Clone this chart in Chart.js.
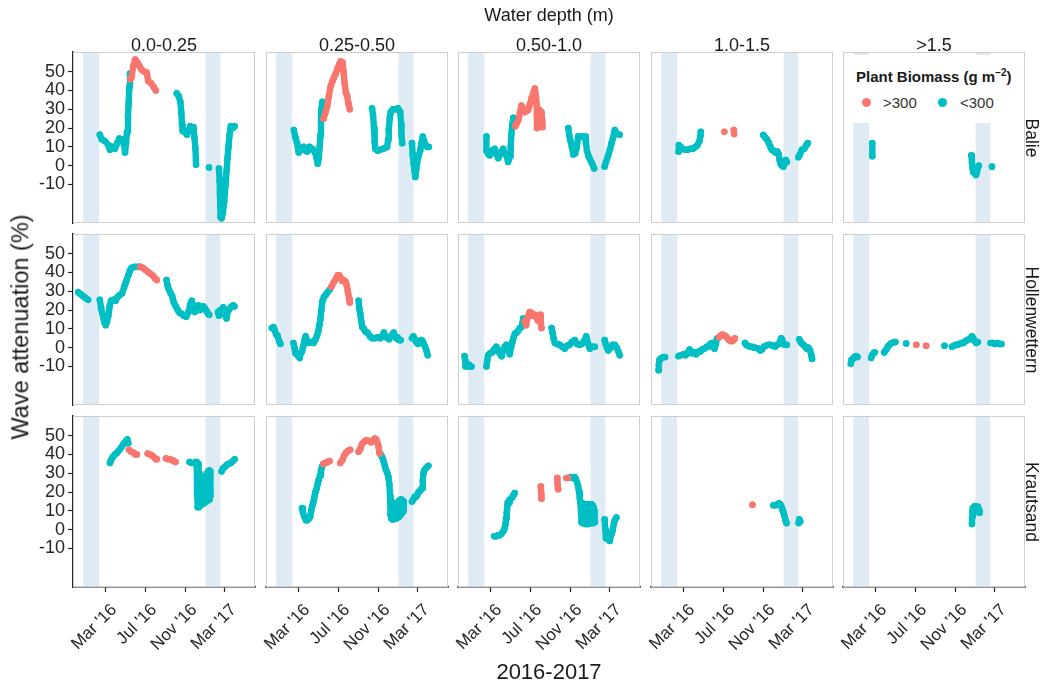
<!DOCTYPE html>
<html>
<head>
<meta charset="utf-8">
<script src="https://cdn.jsdelivr.net/npm/chart.js@4.4.1/dist/chart.umd.min.js"></script>
<style>
  body { margin: 0; background: #fff; width: 1044px; height: 687px; position: relative; overflow: hidden;
         font-family: 'Liberation Sans', Arial, sans-serif; color: #1a1a1a; }
  canvas { position: absolute; }
  .lbl { position: absolute; white-space: nowrap; line-height: 1; transform: translate(-50%, -50%); }
  .legend { position: absolute; left: 849px; top: 55px; width: 171px; height: 68px; background: #fff; }
  .legend .title { position: absolute; left: 7px; top: 14px; font-size: 15px; font-weight: bold; white-space: nowrap; line-height: 1; }
  .legend sup { font-size: 10px; line-height: 0; }
  .legend .dot { position: absolute; width: 9px; height: 9px; border-radius: 50%; }
  .legend .item { position: absolute; font-size: 15px; color: #333; white-space: nowrap; line-height: 1; }
</style>
</head>
<body>
<div id="root"></div>
<script>
// ---- biomass classes ----
const HI = '>300';
const LO = '<300';
const classColors = { '>300': '#F8766D', '<300': '#00BFC4' };

// ---- facet labels ----
const depthClasses = ['0.0-0.25', '0.25-0.50', '0.50-1.0', '1.0-1.5', '>1.5'];
const sites = ['Balie', 'Hollenwettern', 'Krautsand'];

// ---- time axis (days counted from 1 Jan 2016) ----
const tickDays = [60, 182, 305, 425];
const tickLabels = ["Mar '16", "Jul '16", "Nov '16", "Mar '17"];
const dayMin = -38;
const dayMax = 518;

// ---- value axis ----
const yTicks = [-10, 0, 10, 20, 30, 40, 50];
const yMin = -30.5;
const yMax = 60.5;

// ---- winter periods (shaded) ----
const winterStart = [-7, 367];
const winterEnd = [42, 412];

// ---- wave attenuation series: [class, [[day, %], ...]] per continuous run ----
const balie_d1 = [
  [LO, [[44,16.5],[50,14],[60,13],[70,11],[75,8.5],[82,10],[90,9],[97,12],[104,14.5],[110,13],[116,14],[121,7],[124,12],[127,18],[130,26],[132,33],[134,42],[136,49]]],
  [HI, [[137,46],[141,47],[146,53],[152,56.5],[158,55],[165,53],[172,51],[180,50],[187,49.5],[192,45],[200,44],[208,42],[215,40]]],
  [LO, [[279,38.5],[285,37],[290,34],[293,28],[295,22],[297,18.5],[304,18],[310,16.5],[316,19],[320,21],[326,18.5],[330,20.5],[333,15],[336,9],[338,0.5]]],
  [LO, [[377.5,-1]]],
  [LO, [[408,-1.5],[410,-8],[411,-15],[412,-22],[413,-27.5],[416,-28],[420,-25],[424,-19],[428,-10],[431,-3],[434,4],[437,10],[440,16],[444,21],[450,20],[456,21]]]
];
const balie_d2 = [
  [LO, [[47,19],[52,15],[57,12],[62,7],[70,9],[77,10],[83,8],[88,7.5],[95,10],[103,9],[108,8],[113,6.5],[117,4],[120,1],[123,4],[126,10],[128,16],[130,24],[131,30],[134,34]]],
  [HI, [[138,25],[143,28],[149,31.5],[154,37],[159,42],[165,45],[170,47],[175,49],[181,52],[186,54],[190,55.5],[196,55],[199,50],[202,44],[206,39],[210,37],[214,33],[218,30]]],
  [LO, [[286,30.5],[289,27],[292,20],[294,13],[296,9],[303,8],[311,8.5],[320,9],[327,9.5],[332,10],[335,14],[337,19],[340,25],[343,28.5],[350,30],[358,30],[365,30.5],[372,28.5],[375,22],[376,16],[378,12]]],
  [LO, [[408,12],[410,6],[413,1],[416,-3],[418,-6],[421,-2],[424,2],[428,5],[433,8],[437,12],[441,15.5],[445,13],[449,11],[455,10],[459,10]]]
];
const balie_d3 = [
  [LO, [[49,15.5],[49,8],[55,6],[59,5.5],[66,8],[74,9],[80,6],[85,4],[92,7],[100,9],[106,6],[110,5.5],[115,2],[121,5],[123,10],[125,17],[128,22],[131,25.5]]],
  [HI, [[137,21],[141,22.5],[146,24],[151,28],[156,32],[161,30],[166,28.5],[172,30],[176,29.5],[182,33],[187,36],[193,39],[197,41],[200,37],[202,33],[203.5,20],[205,26],[209,30],[213,29],[217,28.5],[219,24],[220,20.5]]],
  [LO, [[299,20],[302,16],[305,13.5],[310,10],[314,6],[320,6.5],[325,10],[329,15.5],[340,15.5],[350,15.5],[353,12],[356,8],[361,5],[365,3.5],[372,1],[378,-1.5]]],
  [LO, [[410,-0.5],[414,2],[420,5],[426,8.5],[431,12],[436,15],[441,19],[448,17],[456,16.5]]]
];
const balie_d4 = [
  [LO, [[46,7.5],[47,11],[52,10],[58,9],[66,8.5],[74,8.5],[82,9],[90,9],[98,10],[104,11],[110,13],[113,16],[114,18]]],
  [HI, [[186,18]]],
  [HI, [[215,19],[216,16.8]]],
  [LO, [[305,16.3],[311,15],[316,14],[322,12],[327,10],[331,8.5],[336,8],[342,7],[348,7.5],[352,6],[355,3],[358,1],[362,0],[366,-0.5],[370,1],[374,3],[377,2]]],
  [LO, [[412,4.5],[417,6],[423,8.5],[430,9],[437,11],[441,12]]]
];
const balie_d5 = [
  [LO, [[51.5,12],[51.5,5]]],
  [LO, [[354,5.5],[356,2],[358,-1.5],[360,-3.5],[364,-3],[368,-5],[371,-3.5],[374,-1],[377,0]]],
  [LO, [[417,-0.5]]]
];

const holl_d1 = [
  [LO, [[-22,29.5],[-15,28.5],[-8,27.5],[0,26.5],[8,25.5]]],
  [LO, [[44,25.5],[48,21],[52,18],[57,14],[62,12],[66,14],[70,17],[74,22],[78,25],[85,25.5],[92,25],[98,27],[105,28],[112,29],[118,32],[122,34],[126,36],[131,38.5],[136,41],[141,42.5],[150,43],[160,43],[166,43]]],
  [HI, [[168,43],[175,42.5],[182,41.5],[190,40.5],[197,39.5],[205,38.5],[212,37],[218,36]]],
  [LO, [[248,36],[251,33],[255,31],[260,29],[265,27.5],[270,24],[276,22],[282,20],[288,18.5],[294,18],[300,17],[308,16.5],[315,19],[320,23],[325,25],[330,21],[334,19],[340,22],[345,22.5],[350,20],[355,21],[360,22],[365,21],[370,19.5],[375,18],[378,17.5]]],
  [LO, [[405,19],[408,17],[412,20],[416,18],[421,21.5],[425,20],[428,17],[431,15.5],[434,19],[438,20],[444,21.5],[451,22.5],[455,22]]]
];
const holl_d2 = [
  [LO, [[-20,10.5],[-15,11],[-11,9],[-7,7],[-3,6.5],[2,3.5],[6,2]]],
  [LO, [[46,2.5],[49,0],[52,-3],[58,-4],[65,-5.5],[68,-3],[72,-2],[76,1],[80,4],[83,6],[87,4],[92,2.5],[100,3],[107,2.5],[112,4],[118,6.5],[122,9],[125,12],[128,15],[131,20],[134,24.5],[139,27],[144,28],[150,29.5],[157,31]]],
  [HI, [[162,32.5],[168,34.5],[175,36.5],[181,38.5],[186,38.5],[190,37],[195,35.5],[200,36],[205,35],[209,33],[212,30],[216,26],[218,24]]],
  [LO, [[245,25],[247,21],[250,18],[253,14],[256,11],[261,10],[266,8.5],[272,8],[280,6],[286,5],[294,5],[302,5.5],[311,5],[317,6],[322,8],[327,6],[333,5],[338,4.5],[343,6],[348,7],[352,8],[356,6],[360,5],[364,5.5],[369,4],[373,4]]],
  [LO, [[408,5],[412,6],[417,4.5],[421,3],[426,2],[431,3],[436,4],[440,3.5],[444,2],[448,0.5],[452,-1.5],[456,-4]]]
];
const holl_d3 = [
  [LO, [[-18,-4.5],[-16,-7],[-15,-10],[-10,-10],[-5,-9],[0,-10],[3,-10]]],
  [LO, [[49,-10],[51,-7],[54,-4],[60,-3],[66,-2.5],[72,-1],[79,0.5],[85,-2],[90,-3],[95,-4.5],[100,-1],[105,0.5],[110,1.5],[115,-1],[120,-3.5],[124,0],[128,3],[132,5.5],[136,7.5],[141,8],[146,9],[151,10.5],[156,11],[159,13],[161,15.5]]],
  [HI, [[166,14],[170,12],[173,15],[177,17],[181,19],[186,18.5],[191,17],[197,17.5],[202,16],[206,14.5],[210,17],[213,17.5],[215,14],[217,10.5]]],
  [LO, [[248,10.5],[251,8],[254,5],[258,2.5],[265,2],[273,1.5],[280,0.5],[288,-0.5],[295,1],[303,1.5],[310,3],[319,4],[325,2],[334,1.5],[340,2],[347,3.5],[354,6],[358,3],[362,1],[365,-0.5],[372,0.5],[380,0.5]]],
  [LO, [[410,4],[413,2],[417,0],[421,-1.5],[428,0],[434,1.5],[441,1.5],[447,0],[452,-2],[456,-4]]]
];
const holl_d4 = [
  [LO, [[-15,-12],[-14,-9],[-12,-6.5],[-6,-5.5],[0,-5],[5,-5]]],
  [LO, [[46,-4.5],[53,-4],[61,-3.5],[68,-4],[75,-2.5],[80,-1],[86,-3],[93,-2.5],[100,-3.5],[107,-2],[113,-2],[118,-1],[125,-0.5],[132,0.5],[138,0.5],[143,2],[148,2.5],[152,1],[156,-0.5],[160,2],[163,4.5],[165,5]]],
  [HI, [[170,5.5],[175,6.5],[180,7],[186,6.5],[191,6],[196,5],[201,4],[205,3.5],[210,3.5],[214,4],[218,5]]],
  [LO, [[249,2.5],[253,1.5],[258,1],[264,0.5],[270,0.5],[276,0],[282,0],[290,-0.5],[296,-1.5],[301,-1],[307,0.5],[313,1],[320,1.5],[327,1.5],[334,1],[341,0.5],[347,1.5],[352,2],[356,3],[360,5],[363,4],[366,2],[371,1.5],[377,1.5]]],
  [LO, [[415,4.5],[419,3],[424,2],[428,1.5],[433,0.5],[438,-0.5],[443,0],[448,-1.5],[452,-4],[454,-6]]]
];
const holl_d5 = [
  [LO, [[-14,-8.5],[-12,-6.5],[-8,-6],[-3,-5],[2,-4.5],[6,-5]]],
  [LO, [[48,-5.5],[51,-4],[55,-3],[59,-2.5]]],
  [LO, [[88,-2.5],[94,-1],[99,0.5],[104,1.5],[110,2.5],[117,2.8],[122,3]]],
  [LO, [[155,2.2]]],
  [HI, [[186,1.5]]],
  [HI, [[216,1]]],
  [LO, [[272,1]]],
  [LO, [[295,0.5],[300,1],[306,1.5],[312,1.5],[318,2],[324,2.5],[330,2.5],[336,3.5],[342,4],[347,4.5],[352,5],[356,6],[360,5],[364,3.5],[369,2.5],[374,3]]],
  [LO, [[413,2.5],[420,2.5],[427,2],[434,2.5],[440,2],[446,2]]]
];

const kraut_d1 = [
  [LO, [[75,35.5],[78,37],[83,38.5],[90,40],[97,41],[104,42.5],[110,44],[116,45.5],[121,46.5],[125,47.5],[128,48],[131,46]]],
  [HI, [[133,42.5],[140,41.5],[147,41],[152,40],[157,40]]],
  [HI, [[190,40.5],[197,40],[204,39.5],[210,38.5],[215,37.5],[218,37.5]]],
  [HI, [[246,38],[252,37.5],[258,37.5],[265,37],[270,36.5],[275,36]]],
  [LO, [[318,36],[324,35.5],[330,35.5],[337,36],[340,36],[341,20],[343,12],[344,35],[346,12],[348,30],[349,12.5],[351,28],[352,13],[354,27],[355,13.5],[357,27],[358,14],[360,27],[361,14],[363,27],[364,14.5],[366,28],[367,15],[369,29],[370,15],[372,30],[373,15.5],[375,31],[376,16],[378,31.5],[379,16],[381,31],[382,18]]],
  [LO, [[416,31],[420,32.5],[426,33.5],[432,34.5],[438,35],[444,35.5],[450,36.5],[456,37.5]]]
];
const kraut_d2 = [
  [LO, [[72,11.5],[75,9],[79,7],[84,5],[88,5],[93,6],[97,7],[100,10],[103,12.5],[107,15],[110,17.5],[113,20],[117,22],[120,24.5],[123,26.5],[127,29],[130,31.5],[133,33.5]]],
  [HI, [[137,35],[143,35.5],[150,36],[156,36.5]]],
  [HI, [[189,35.5],[195,37],[201,39.5],[207,41],[213,42],[219,42.5]]],
  [HI, [[245,41.5],[250,43],[255,45.5],[260,46.5],[266,47.5],[272,47.5],[278,47],[283,46.5],[288,47.5],[294,48.5],[299,48],[303,46],[306,44],[309,40.5]]],
  [LO, [[313,40],[317,38.5],[321,36.5],[325,34],[328,32],[332,30.5],[336,28],[339,24],[341,18],[342,8],[343,16],[345,6],[346,15],[348,5.5],[349,14],[351,5.5],[352,13],[354,6],[355,12],[357,6],[358,13],[360,6],[361,13],[363,6.5],[364,14],[366,7],[367,15],[369,7],[370,15.5],[372,8],[373,16],[375,8.5],[376,16],[378,9],[379,15.5],[381,10],[382,15],[383,11]]],
  [LO, [[408,15],[412,16],[416,17.5],[420,17.5],[424,18.5],[428,20],[432,20.5],[436,21.5],[439,22],[441,26],[443,30],[447,32],[452,33],[458,34]]]
];
const kraut_d3 = [
  [LO, [[73,-3.5],[78,-3.5],[84,-3],[89,-3],[95,-2],[100,-1],[104,0.5],[107,3],[109,6],[111,9],[113,13],[114,14.5],[118,14.5],[120,16]]],
  [LO, [[127,17],[132,18.5],[135,19.5]]],
  [HI, [[215,23],[216,19],[217,16.5]]],
  [HI, [[265,27.5],[266,24],[268,21.5]]],
  [HI, [[293,27.5],[298,27.5]]],
  [LO, [[306,28],[312,27.5],[318,28],[322,27],[326,25],[329,23],[332,20],[334,17],[336,14],[338,9],[339,4],[340,14],[342,3.5],[343,14],[345,3.5],[346,13.5],[348,3.5],[349,13.5],[351,3],[352,13],[354,3],[355,13],[357,3],[358,13.5],[360,3],[361,13.5],[363,3.5],[364,13],[366,3.5],[367,13],[369,3.5],[370,13.5],[372,3.5],[373,13],[375,3.5],[376,12],[378,4],[379,10],[380,4]]],
  [LO, [[410,5.5],[412,0],[414,-4.5],[418,-5],[422,-4],[426,-6],[429,-3],[432,-2],[435,0],[438,3],[441,5],[446,6.5]]]
];
const kraut_d4 = [
  [HI, [[272,13.3]]],
  [LO, [[336,13],[342,13],[348,13.5],[353,14],[357,13.5],[361,12],[364,10.5],[367,9],[370,7],[373,5],[376,3.5]]],
  [LO, [[413,3.5],[415,5.5],[418,4.5]]]
];
const kraut_d5 = [
  [LO, [[356,3],[356.5,6.5],[357,9.5],[359,11.5],[364,12.5],[370,12.5],[375,12],[379,10],[379,9],[372,10],[365,10.5],[359,8]]]
];

const panelSeries = [
  [balie_d1, balie_d2, balie_d3, balie_d4, balie_d5],
  [holl_d1, holl_d2, holl_d3, holl_d4, holl_d5],
  [kraut_d1, kraut_d2, kraut_d3, kraut_d4, kraut_d5]
];

// ---- page geometry ----
const colLeft = [73, 266, 458, 651, 843];
const rowTop = [52, 234, 416];
const PW = 182, PH = 171;
const PAD_L = 70, PAD_R = 10, PAD_T = 20, PAD_B = 80;

const FONT = "'Liberation Sans', Arial, sans-serif";
Chart.defaults.font.family = FONT;

const BAND_COLOR = '#deebf5';
const FRAME_COLOR = '#cfcfcf';
const AXIS_COLOR = '#262626';
const TICK_TEXT = '#262626';

const winterBands = {
  id: 'winterBands',
  beforeDatasetsDraw(chart) {
    const { ctx, chartArea: a, scales: { x } } = chart;
    ctx.save();
    ctx.fillStyle = BAND_COLOR;
    winterStart.forEach((s, i) => {
      const x0 = x.getPixelForValue(s);
      const x1 = x.getPixelForValue(winterEnd[i]);
      ctx.fillRect(x0, a.top, x1 - x0, a.bottom - a.top);
    });
    ctx.strokeStyle = FRAME_COLOR;
    ctx.lineWidth = 1;
    ctx.strokeRect(a.left + 0.5, a.top + 0.5, a.right - a.left - 1, a.bottom - a.top - 1);
    ctx.restore();
  }
};

function toDataset(segs, cls) {
  const pts = [];
  segs.filter(s => s[0] === cls).forEach(s => {
    s[1].forEach(p => pts.push({ x: p[0], y: p[1] }));
    pts.push({ x: s[1][s[1].length - 1][0], y: null });
  });
  return {
    label: cls,
    data: pts,
    showLine: true,
    spanGaps: false,
    borderColor: classColors[cls],
    backgroundColor: classColors[cls],
    pointBackgroundColor: classColors[cls],
    borderWidth: 6.4,
    pointRadius: 3.3,
    pointHoverRadius: 3.3,
    pointBorderWidth: 0
  };
}

const root = document.getElementById('root');

function makePanel(r, c) {
  const cv = document.createElement('canvas');
  const w = PAD_L + PW + PAD_R, h = PAD_T + PH + PAD_B;
  cv.width = w; cv.height = h;
  cv.style.left = (colLeft[c] - PAD_L) + 'px';
  cv.style.top = (rowTop[r] - PAD_T) + 'px';
  cv.style.width = w + 'px'; cv.style.height = h + 'px';
  root.appendChild(cv);

  const segs = panelSeries[r][c];
  const showX = r === 2, showY = c === 0;

  new Chart(cv, {
    type: 'scatter',
    data: { datasets: [toDataset(segs, HI), toDataset(segs, LO)] },
    options: {
      responsive: false,
      animation: false,
      events: [],
      layout: { padding: { left: showY ? 0 : PAD_L, right: PAD_R, top: PAD_T, bottom: showX ? 0 : PAD_B } },
      plugins: { legend: { display: false }, tooltip: { enabled: false } },
      elements: { line: { tension: 0, borderCapStyle: 'round', borderJoinStyle: 'round' } },
      scales: {
        x: {
          type: 'linear', min: dayMin, max: dayMax, display: showX,
          afterBuildTicks: s => { s.ticks = tickDays.map(v => ({ value: v })); },
          afterFit: s => { if (showX) s.height = PAD_B; },
          ticks: {
            autoSkip: false, minRotation: 45, maxRotation: 45, padding: 8, labelOffset: 9, color: TICK_TEXT,
            font: { size: 17 },
            callback: (v, i) => tickLabels[i]
          },
          grid: { display: true, drawOnChartArea: false, drawTicks: true, tickLength: 5, tickColor: AXIS_COLOR, tickWidth: 1.2 },
          border: { display: true, color: AXIS_COLOR, width: 1.5 }
        },
        y: {
          type: 'linear', min: yMin, max: yMax, display: showY,
          afterBuildTicks: s => { s.ticks = yTicks.map(v => ({ value: v })); },
          afterFit: s => { if (showY) s.width = PAD_L; },
          ticks: { padding: 3, color: TICK_TEXT, font: { size: 18 } },
          grid: { display: true, drawOnChartArea: false, drawTicks: true, tickLength: 5, tickColor: AXIS_COLOR, tickWidth: 1.2 },
          border: { display: true, color: AXIS_COLOR, width: 1.5 }
        }
      }
    },
    plugins: [winterBands]
  });
}

for (let r = 0; r < 3; r++) for (let c = 0; c < 5; c++) makePanel(r, c);

// ---- titles and facet strips ----
function label(text, x, y, size, rot, color) {
  const d = document.createElement('div');
  d.className = 'lbl';
  d.textContent = text;
  d.style.left = x + 'px';
  d.style.top = y + 'px';
  d.style.fontSize = size + 'px';
  if (color) d.style.color = color;
  if (rot) d.style.transform = 'translate(-50%, -50%) rotate(' + rot + 'deg)';
  document.body.appendChild(d);
}
label('Water depth (m)', 549, 15, 18);
depthClasses.forEach((t, c) => label(t, colLeft[c] + PW / 2, 45, 18));
sites.forEach((t, r) => label(t, 1031, rowTop[r] + PH / 2, 17.5, 90));
label('Wave attenuation (%)', 21, 327, 23.5, -90);
label('2016-2017', 549, 672, 22);

// ---- legend ----
const lg = document.createElement('div');
lg.className = 'legend';
lg.innerHTML = '<div class="title">Plant Biomass (g m<sup>\u22122</sup>)</div>';
[[HI, 13, 34], [LO, 89, 111]].forEach(([cls, dx, tx]) => {
  const dot = document.createElement('div');
  dot.className = 'dot';
  dot.style.background = classColors[cls];
  dot.style.left = (dx) + 'px';
  dot.style.top = '43px';
  lg.appendChild(dot);
  const it = document.createElement('div');
  it.className = 'item';
  it.textContent = cls;
  it.style.left = tx + 'px';
  it.style.top = '40px';
  lg.appendChild(it);
});
document.body.appendChild(lg);
</script>
</body>
</html>
